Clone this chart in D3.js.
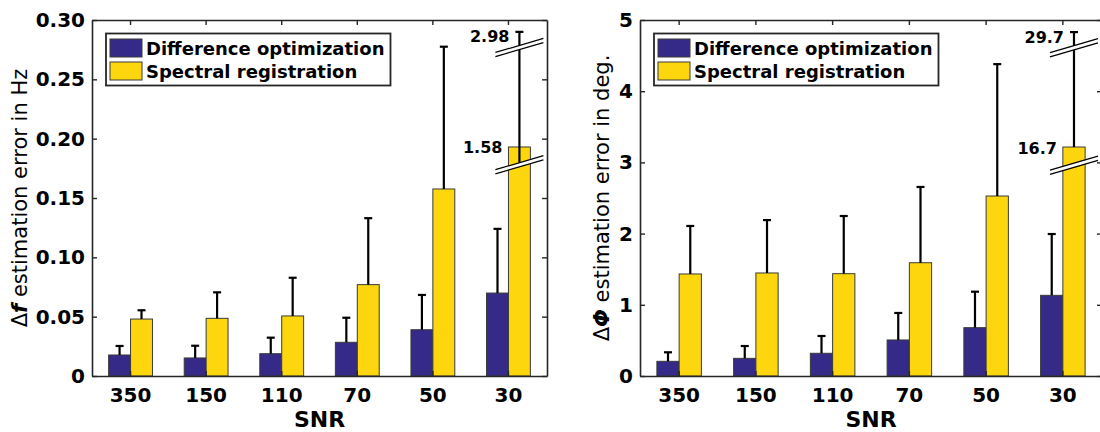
<!DOCTYPE html>
<html>
<head>
<meta charset="utf-8">
<script src="https://cdn.jsdelivr.net/npm/d3@7"></script>
<style>
  body { margin: 0; background: #fff; }
  svg { display: block; }
  text { font-family: "DejaVu Sans", sans-serif; fill: #000; }
</style>
</head>
<body>
<svg id="chart" width="1100" height="432"></svg>
<script>
// ---- data -------------------------------------------------------------
const categories = ["350", "150", "110", "70", "50", "30"];
const seriesNames = ["Difference optimization", "Spectral registration"];

// frequency estimation error (Hz): bar value and upper end of error bar
const freqDiffOpt      = [0.0177, 0.0152, 0.0188, 0.0284, 0.0390, 0.0699];
const freqDiffOptUpper = [0.0253, 0.0255, 0.0323, 0.0491, 0.0683, 0.1240];
const freqSpecReg      = [0.0480, 0.0486, 0.0506, 0.0770, 0.1576, 1.58];
const freqSpecRegUpper = [0.0554, 0.0705, 0.0828, 0.1330, 0.2775, 2.98];
const freqTicks        = [0, 0.05, 0.10, 0.15, 0.20, 0.25, 0.30];
const freqTickLabels   = ["0", "0.05", "0.10", "0.15", "0.20", "0.25", "0.30"];

// phase estimation error (deg.)
const phaseDiffOpt      = [0.206, 0.248, 0.319, 0.506, 0.679, 1.133];
const phaseDiffOptUpper = [0.333, 0.421, 0.562, 0.885, 1.184, 1.994];
const phaseSpecReg      = [1.433, 1.447, 1.437, 1.591, 2.528, 16.7];
const phaseSpecRegUpper = [2.107, 2.190, 2.247, 2.655, 4.380, 29.7];
const phaseTicks        = [0, 1, 2, 3, 4, 5];
const phaseTickLabels   = ["0", "1", "2", "3", "4", "5"];

// ---- styling ----------------------------------------------------------
const colors = ["#352a87", "#fdd60e"];
const axisColor = "#262626";
const svg = d3.select("#chart");

function drawPanel(cfg) {
  const { left, right, top, bottom } = cfg.box;
  const g = svg.append("g");

  const x = d3.scaleBand().domain(categories).range([left, right])
    .paddingInner(0.42).paddingOuter(0.22);
  const xs = d3.scaleBand().domain([0, 1]).range([0, x.bandwidth()]);
  const y = d3.scaleLinear().domain([0, cfg.yMax]).range([bottom, top]);

  // values beyond the axis are drawn on a compressed scale above a break
  const scaleFor = (s, i) => {
    const u = cfg.series[s].upper[i];
    if (u <= cfg.yMax) return y;
    const b = cfg.brk, v = cfg.series[s].values[i];
    return d3.scaleLinear()
      .domain([0, b.low, v, u])
      .range([y(0), y(b.low), y(b.bar), y(b.cap)]);
  };

  const items = [];
  cfg.series.forEach((ser, s) => {
    categories.forEach((c, i) => {
      items.push({ s, i, c, v: ser.values[i], u: ser.upper[i], sc: scaleFor(s, i),
                   broken: ser.upper[i] > cfg.yMax });
    });
  });

  // bars
  g.selectAll("rect.bar").data(items).join("rect")
    .attr("class", "bar")
    .attr("x", d => x(d.c) + xs(d.s))
    .attr("width", xs.bandwidth())
    .attr("y", d => d.sc(d.v))
    .attr("height", d => d.sc(0) - d.sc(d.v))
    .attr("fill", d => colors[d.s])
    .attr("stroke", "#3a3a3a")
    .attr("stroke-width", 1);

  // upper error bars
  const cx = d => x(d.c) + xs(d.s) + xs.bandwidth() / 2;
  g.selectAll("line.err").data(items).join("line")
    .attr("x1", cx).attr("x2", cx)
    .attr("y1", d => d.broken && cfg.errFromBreak ? d.sc(cfg.brk.low) : d.sc(d.v))
    .attr("y2", d => d.sc(d.u))
    .attr("stroke", "#000").attr("stroke-width", 2.2);
  g.selectAll("line.cap").data(items).join("line")
    .attr("x1", d => cx(d) - 4).attr("x2", d => cx(d) + 4)
    .attr("y1", d => d.sc(d.u)).attr("y2", d => d.sc(d.u))
    .attr("stroke", "#000").attr("stroke-width", 2.2);

  // break marks and value labels for compressed bars
  const broken = items.filter(d => d.broken);
  const breakMark = (px, py) => {
    const w = 24, dy = 7, gap = 4.2;
    const bg = g.append("g");
    bg.append("polygon")
      .attr("points", [[px - w, py + dy - gap / 2], [px + w, py - dy - gap / 2],
                       [px + w, py - dy + gap / 2], [px - w, py + dy + gap / 2]].join(" "))
      .attr("fill", "#fff");
    [-gap / 2, gap / 2].forEach(o => {
      bg.append("line")
        .attr("x1", px - w).attr("y1", py + dy + o)
        .attr("x2", px + w).attr("y2", py - dy + o)
        .attr("stroke", "#000").attr("stroke-width", 1.2);
    });
  };
  broken.forEach(d => {
    breakMark(cx(d), d.sc(cfg.brk.low));
    breakMark(cx(d), y(cfg.brk.high));
    g.append("text")
      .attr("x", cx(d) - 10).attr("y", d.sc(d.u) + 5)
      .attr("text-anchor", "end").attr("dominant-baseline", "central")
      .attr("font-size", 16).attr("font-weight", "bold")
      .text(String(d.u));
    g.append("text")
      .attr("x", x(d.c) + xs(d.s) - 6).attr("y", d.sc(d.v) + 1)
      .attr("text-anchor", "end").attr("dominant-baseline", "central")
      .attr("font-size", 16).attr("font-weight", "bold")
      .text(String(d.v));
  });

  // axes box with inward ticks
  const styleAxis = sel => {
    sel.selectAll("path.domain").attr("stroke", axisColor).attr("stroke-width", 1.6);
    sel.selectAll(".tick line").attr("stroke", axisColor).attr("stroke-width", 1.4);
    sel.selectAll("text").attr("font-size", 20).attr("font-weight", "bold")
      .attr("fill", "#000").attr("font-family", "DejaVu Sans, sans-serif");
  };
  g.append("g").attr("transform", `translate(${left},0)`)
    .call(d3.axisLeft(y).tickValues(cfg.ticks).tickFormat((d, i) => cfg.tickLabels[i])
      .tickSizeInner(-5).tickSizeOuter(0).tickPadding(7))
    .call(styleAxis);
  g.append("g").attr("transform", `translate(${right},0)`)
    .call(d3.axisRight(y).tickValues(cfg.ticks).tickFormat("")
      .tickSizeInner(-5).tickSizeOuter(0))
    .call(styleAxis);
  g.append("g").attr("transform", `translate(0,${top})`)
    .call(d3.axisTop(x).tickFormat("").tickSizeInner(-5).tickSizeOuter(0))
    .call(styleAxis);
  g.append("g").attr("transform", `translate(0,${bottom})`)
    .call(d3.axisBottom(x).tickSizeInner(-5).tickSizeOuter(0).tickPadding(12))
    .call(styleAxis);

  // axis titles
  g.append("text")
    .attr("x", (left + right) / 2).attr("y", 427)
    .attr("text-anchor", "middle").attr("font-size", 22).attr("font-weight", "bold")
    .text("SNR");
  const yl = g.append("text")
    .attr("transform", `translate(${cfg.yLabelX},${(top + bottom) / 2}) rotate(-90)`)
    .attr("text-anchor", "middle").attr("dominant-baseline", "central")
    .attr("font-size", 21);
  yl.append("tspan").text("\u0394");
  yl.append("tspan").attr("font-style", "italic").attr("font-weight", "bold").text(cfg.symbol);
  yl.append("tspan").text(" " + cfg.yTitle);

  // legend
  const lx = left + 14, ly = top + 13.5;
  const lg = g.append("g");
  const box = lg.append("rect")
    .attr("x", lx).attr("y", ly).attr("height", 52)
    .attr("fill", "#fff").attr("stroke", axisColor).attr("stroke-width", 1.8);
  let maxW = 0;
  seriesNames.forEach((name, s) => {
    lg.append("rect")
      .attr("x", lx + 4).attr("y", ly + 5.5 + s * 23)
      .attr("width", 32).attr("height", 18)
      .attr("fill", colors[s]).attr("stroke", "#3a3a3a").attr("stroke-width", 1);
    const t = lg.append("text")
      .attr("x", lx + 40).attr("y", ly + 21 + s * 23)
      .attr("font-size", 18).attr("font-weight", "bold")
      .text(name);
    maxW = Math.max(maxW, t.node().getComputedTextLength());
  });
  box.attr("width", 40 + maxW + 6);
}

drawPanel({
  box: { left: 92, right: 547, top: 20, bottom: 376 },
  yMax: 0.30,
  ticks: freqTicks, tickLabels: freqTickLabels,
  series: [
    { values: freqDiffOpt, upper: freqDiffOptUpper },
    { values: freqSpecReg, upper: freqSpecRegUpper }
  ],
  brk: { low: 0.178, bar: 0.193, cap: 0.29, high: 0.2768 },
  errFromBreak: true,
  yLabelX: 20, symbol: "f", yTitle: "estimation error in Hz"
});

drawPanel({
  box: { left: 640, right: 1102, top: 20, bottom: 376 },
  yMax: 5,
  ticks: phaseTicks, tickLabels: phaseTickLabels,
  series: [
    { values: phaseDiffOpt, upper: phaseDiffOptUpper },
    { values: phaseSpecReg, upper: phaseSpecRegUpper }
  ],
  brk: { low: 2.96, bar: 3.216, cap: 4.83, high: 4.61 },
  errFromBreak: false,
  yLabelX: 602, symbol: "\u03A6", yTitle: "estimation error in deg."
});
</script>
</body>
</html>
